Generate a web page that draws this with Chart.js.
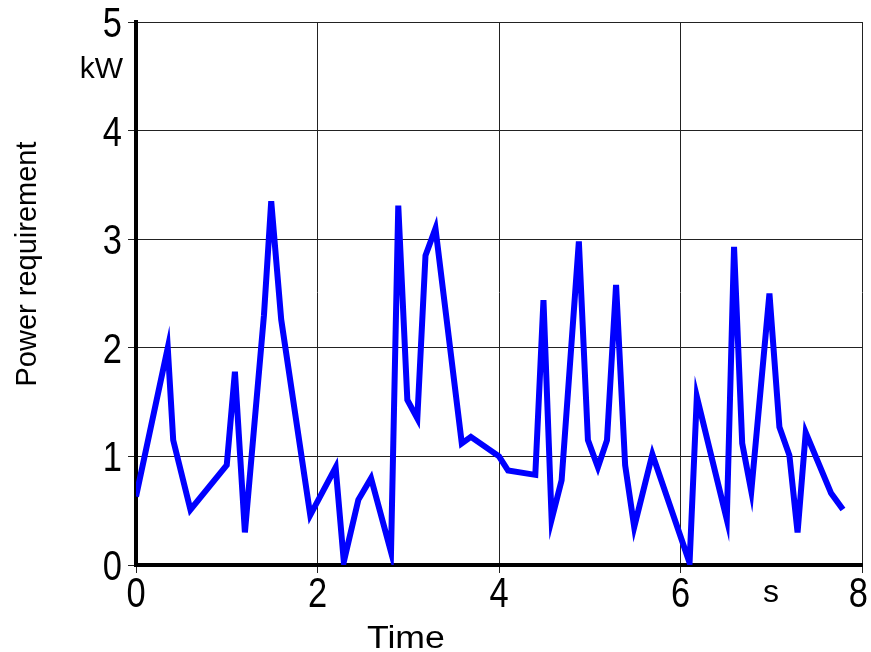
<!DOCTYPE html>
<html lang="en">
<head>
  <meta charset="UTF-8">
  <title>Power requirement</title>
  <script src="https://cdn.jsdelivr.net/npm/chart.js"></script>
  <style>
    body { margin: 0; background: #fff; }
    .container { width: 871px; height: 652px; }
  </style>
</head>
<body>
  <div class="container">
    <canvas id="myChart" width="871" height="652"></canvas>
  </div>
  <script>
    // time in s, power in kW
    const times = [0, 0.35, 0.41, 0.6, 1.0, 1.09, 1.2, 1.41, 1.49, 1.6, 1.92, 2.2, 2.29, 2.45, 2.59, 2.81,
      2.89, 2.99, 3.1, 3.19, 3.3, 3.59, 3.69, 4.0, 4.1, 4.4, 4.49, 4.58, 4.69, 4.88, 4.98, 5.09, 5.19,
      5.29, 5.39, 5.49, 5.69, 6.1, 6.18, 6.51, 6.59, 6.68, 6.78, 6.98, 7.09, 7.2, 7.29, 7.38, 7.66, 7.79]
    const power = [0.63, 2.0, 1.15, 0.51, 0.92, 1.78, 0.3, 2.3, 3.35, 2.26, 0.46, 0.9, 0.03, 0.6, 0.8, 0.12,
      3.31, 1.52, 1.35, 2.85, 3.1, 1.12, 1.18, 1.0, 0.87, 0.83, 2.44, 0.42, 0.78, 2.98, 1.15, 0.9, 1.15,
      2.58, 0.92, 0.35, 1.02, 0.02, 1.55, 0.42, 2.93, 1.12, 0.68, 2.5, 1.27, 1.01, 0.3, 1.22, 0.66, 0.51]
    const xTicks = [0, 2, 4, 6, 8]
    const yTicks = [0, 1, 2, 3, 4, 5]

    const font = 'Liberation Sans, Arial, sans-serif'

    // tick numbers are tall and narrow in the original, so they are drawn
    // here squeezed, at the positions the chart's own scales give
    const tickLabelsPlugin = {
      id: 'tickLabels',
      afterDraw(chart) {
        const ctx = chart.ctx
        const xs = chart.scales.x
        const ys = chart.scales.y
        const squeeze = 0.82
        ctx.save()
        ctx.fillStyle = '#000'
        ctx.font = '42px ' + font
        ctx.textBaseline = 'alphabetic'
        ctx.textAlign = 'center'
        xs.ticks.forEach(t => {
          const label = String(t.value)
          const w = ctx.measureText(label).width * squeeze
          const cx = Math.min(xs.getPixelForValue(t.value), chart.width - 3 - w / 2)
          ctx.save()
          ctx.translate(cx, xs.bottom - 87 + 42)
          ctx.scale(squeeze, 1)
          ctx.fillText(label, 0, 0)
          ctx.restore()
        })
        ctx.textAlign = 'right'
        ys.ticks.forEach(t => {
          ctx.save()
          ctx.translate(ys.right - 14, ys.getPixelForValue(t.value) + 15)
          ctx.scale(squeeze, 1)
          ctx.fillText(String(t.value), 0, 0)
          ctx.restore()
        })
        ctx.restore()
      }
    }

    // extra labels that sit outside the normal axis titles
    const labelsPlugin = {
      id: 'labels',
      afterDraw(chart) {
        const ctx = chart.ctx
        ctx.save()
        ctx.fillStyle = '#000'
        ctx.textBaseline = 'alphabetic'

        ctx.font = '30px ' + font
        ctx.textAlign = 'right'
        ctx.fillText('kW', 123, 78)

        ctx.font = '32px ' + font
        ctx.textAlign = 'center'
        ctx.fillText('s', 771, 602)

        ctx.save()
        ctx.translate(367, 648)
        ctx.scale(1.15, 1)
        ctx.font = '31px ' + font
        ctx.textAlign = 'left'
        ctx.fillText('Time', 0, 0)
        ctx.restore()

        ctx.translate(28, 264)
        ctx.rotate(-Math.PI / 2)
        ctx.font = '29px ' + font
        ctx.textAlign = 'center'
        ctx.textBaseline = 'middle'
        ctx.fillText('Power requirement', 0, 0)
        ctx.restore()
      }
    }

    const ctx = document.getElementById('myChart')
    new Chart(ctx, {
      type: 'line',
      data: {
        datasets: [{
          label: 'Power',
          data: times.map((t, i) => ({ x: t, y: power[i] })),
          borderColor: '#0000ff',
          borderWidth: 6,
          pointRadius: 0,
          tension: 0,
          fill: false
        }]
      },
      options: {
        responsive: false,
        animation: false,
        layout: { padding: { top: 22, right: 9, left: 0, bottom: 0 } },
        plugins: { legend: { display: false }, tooltip: { enabled: false } },
        scales: {
          x: {
            type: 'linear',
            min: 0,
            max: 8,
            afterBuildTicks: (scale) => { scale.ticks = xTicks.map(v => ({ value: v })) },
            afterFit: (scale) => { scale.height = 87; scale.paddingLeft = 0; scale.paddingRight = 0 },
            ticks: { color: 'rgba(0,0,0,0)', font: { family: font, size: 34 }, padding: 0, maxRotation: 0 },
            grid: { color: '#222', lineWidth: 1, tickLength: 8 },
            border: { color: '#000', width: 4 }
          },
          y: {
            min: 0,
            max: 5,
            afterBuildTicks: (scale) => { scale.ticks = yTicks.map(v => ({ value: v })) },
            afterFit: (scale) => { scale.width = 136; scale.paddingTop = 0; scale.paddingBottom = 0 },
            ticks: { color: 'rgba(0,0,0,0)', font: { family: font, size: 34 }, padding: 5 },
            grid: { color: '#222', lineWidth: 1, tickLength: 8 },
            border: { color: '#000', width: 4 }
          }
        }
      },
      plugins: [tickLabelsPlugin, labelsPlugin]
    })
  </script>
</body>
</html>
